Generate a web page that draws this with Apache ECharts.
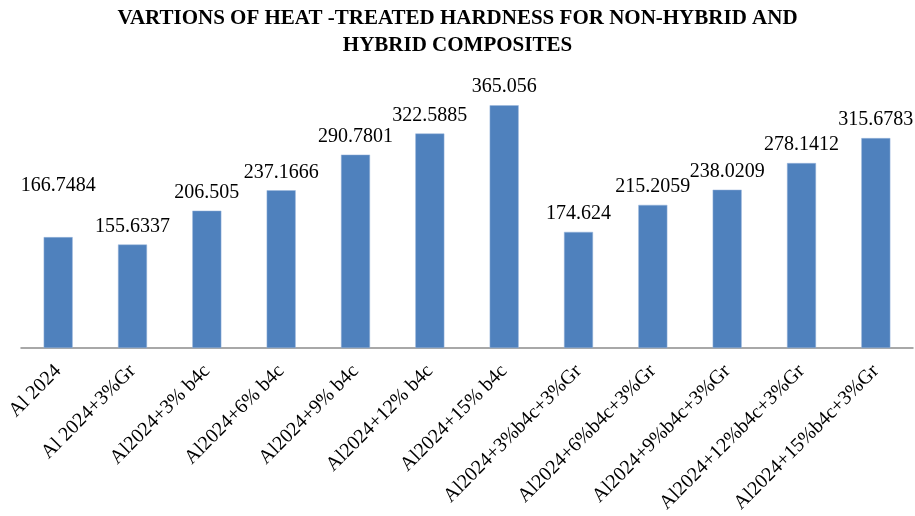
<!DOCTYPE html>
<html>
<head>
<meta charset="utf-8">
<script src="https://cdn.jsdelivr.net/npm/echarts@6/dist/echarts.min.js"></script>
<style>
  html, body { margin: 0; padding: 0; background: #fff; }
  #chart { width: 915px; height: 516px; }
</style>
</head>
<body>
<div id="chart"></div>
<script>
const categories = ['Al 2024', 'Al 2024+3%Gr', 'Al2024+3% b4c', 'Al2024+6% b4c', 'Al2024+9% b4c',
  'Al2024+12% b4c', 'Al2024+15% b4c', 'Al2024+3%b4c+3%Gr', 'Al2024+6%b4c+3%Gr',
  'Al2024+9%b4c+3%Gr', 'Al2024+12%b4c+3%Gr', 'Al2024+15%b4c+3%Gr'];
const hardness = [166.7484, 155.6337, 206.505, 237.1666, 290.7801, 322.5885, 365.056,
  174.624, 215.2059, 238.0209, 278.1412, 315.6783];

const serif = '"Liberation Serif", "Times New Roman", serif';
const chart = echarts.init(document.getElementById('chart'));

// first label sits higher in the original
const barData = hardness.map((v, i) => i === 0 ? {value: v, label: {distance: 41}} : v);

chart.setOption({
  animation: false,
  title: {
    text: 'VARTIONS OF HEAT -TREATED HARDNESS FOR NON-HYBRID AND\nHYBRID COMPOSITES',
    left: 'center',
    top: 0,
    textStyle: {fontFamily: serif, fontWeight: 'bold', fontSize: 21, color: '#000', lineHeight: 27}
  },
  grid: {left: 21, right: 2, top: 82, bottom: 168},
  xAxis: {
    type: 'category',
    data: categories,
    axisLine: {lineStyle: {color: '#8c8c8c', width: 1.5}},
    axisTick: {show: false},
    axisLabel: {rotate: 45, interval: 0, margin: 20, fontFamily: serif, fontSize: 20, color: '#000'}
  },
  yAxis: {
    type: 'value',
    min: 0,
    max: 400,
    show: false,
    splitLine: {show: false}
  },
  series: [{
    type: 'bar',
    data: barData,
    barWidth: 29,
    itemStyle: {color: '#4F81BD', borderColor: '#9bb7dc', borderWidth: 0.5},
    label: {
      show: true,
      position: 'top',
      distance: 8,
      fontFamily: serif,
      fontSize: 20,
      color: '#000'
    }
  }]
});
</script>
</body>
</html>
